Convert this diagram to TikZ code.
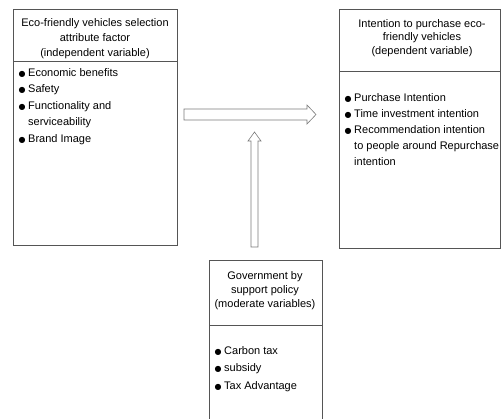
\documentclass[tikz,border=0pt]{standalone}
\usepackage{fontspec}
\setmainfont{Liberation Sans}
\newfontfamily\dejavu{DejaVu Sans}
\newcommand\bul{\makebox[9.5pt][l]{\dejavu\fontsize{8}{8}\selectfont ●}}
\newenvironment{itemtab}{\begin{tabular}[b]{@{}p{9.5pt}@{}l@{}}}{\end{tabular}}
\definecolor{linegray}{HTML}{555555}
\definecolor{arrowgray}{HTML}{7A7A7A}
\tikzset{
  box/.style={draw=linegray, line width=0.9pt, inner sep=0pt, anchor=north west},
  sep/.style={draw=linegray, line width=0.9pt},
  hdr/.style={align=center, inner sep=0pt, anchor=base},
  items/.style={inner sep=0pt, anchor=base west},
  blockarrow/.style={draw=arrowgray, line width=0.6pt, fill=white}
}
\begin{document}
\begin{tikzpicture}[x=1pt,y=-1pt]
\useasboundingbox (0,0) rectangle (501,418);
% boxes
\node[box, minimum width=164pt, minimum height=236pt] (L) at (13,9) {};
\node[box, minimum width=161pt, minimum height=239pt] (R) at (339,9) {};
\node[box, minimum width=113pt, minimum height=180pt] (B) at (209,260) {};
% header separators
\coordinate (lh) at (0,61);
\coordinate (rh) at (0,71);
\coordinate (bh) at (0,325);
\draw[sep] (L.west |- lh) -- (L.east |- lh);
\draw[sep] (R.west |- rh) -- (R.east |- rh);
\draw[sep] (B.west |- bh) -- (B.east |- bh);
% headers (base anchor = baseline of last line)
\node[hdr, font=\fontsize{11}{15}\selectfont] (Lh) at (95,56) {Eco-friendly vehicles selection\\attribute factor\\(independent variable)};
\node[hdr, font=\fontsize{11}{13.5}\selectfont] (Rh) at (422,54) {Intention to purchase eco-\\friendly vehicles\\(dependent variable)};
\node[hdr, font=\fontsize{11}{14}\selectfont] (Bh) at (265,307) {Government by\\support policy\\(moderate variables)};
% items
\node[items, font=\fontsize{11}{16.5}\selectfont] (Li) at (18.5,142) {\begin{itemtab}
\bul & Economic benefits\\
\bul & Safety\\
\bul & Functionality and\\
     & serviceability\\
\bul & Brand Image
\end{itemtab}};
\node[items, font=\fontsize{11}{16}\selectfont] (Ri) at (344.5,165) {\begin{itemtab}
\bul & Purchase Intention\\
\bul & Time investment intention\\
\bul & Recommendation intention\\
     & to people around Repurchase\\
     & intention
\end{itemtab}};
\node[items, font=\fontsize{11}{17.5}\selectfont] (Bi) at (214.5,389) {\begin{itemtab}
\bul & Carbon tax\\
\bul & subsidy\\
\bul & Tax Advantage
\end{itemtab}};
% block arrows
\draw[blockarrow] (184,109) -- (307,109) -- (307,105) -- (316,114.5) -- (307,124) -- (307,120) -- (184,120) -- cycle;
\draw[blockarrow] (251,247) -- (251,141) -- (248,141) -- (254.5,132) -- (261,141) -- (258,141) -- (258,247) -- cycle;
\end{tikzpicture}
\end{document}
